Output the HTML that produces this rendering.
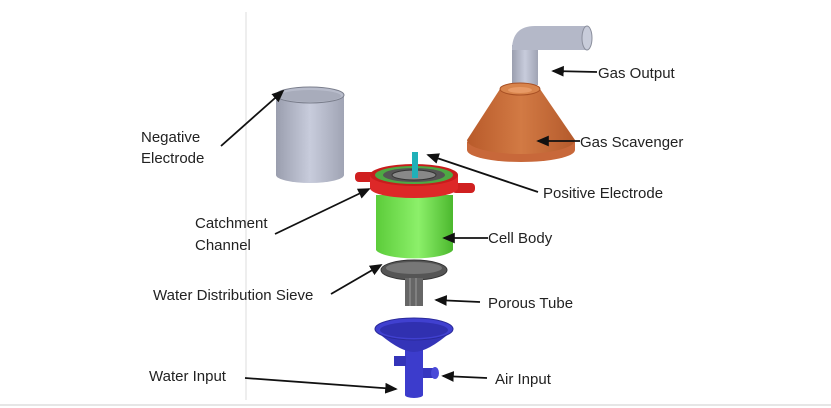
<!DOCTYPE html>
<html><head><style>
html,body{margin:0;padding:0;background:#fff;}
svg{display:block}
text{font-family:"Liberation Sans",sans-serif;font-size:15px;fill:#222}
</style></head><body>
<svg width="831" height="408" viewBox="0 0 831 408" xmlns="http://www.w3.org/2000/svg">
<defs>
<linearGradient id="gray" x1="0" x2="1"><stop offset="0" stop-color="#9a9eae"/><stop offset=".5" stop-color="#c8ccdc"/><stop offset="1" stop-color="#a0a4b4"/></linearGradient>
<linearGradient id="green" x1="0" x2="1"><stop offset="0" stop-color="#5ccc3a"/><stop offset=".55" stop-color="#8cf06a"/><stop offset="1" stop-color="#4cb82e"/></linearGradient>
<linearGradient id="copper" x1="0" x2="1"><stop offset="0" stop-color="#b85a2a"/><stop offset=".5" stop-color="#d27a44"/><stop offset="1" stop-color="#b45a2c"/></linearGradient>
<marker id="ah" markerWidth="8" markerHeight="8" refX="6" refY="3" orient="auto"><path d="M0,0 L7,3 L0,6 Z" fill="#111"/></marker>
</defs>
<line x1="246" y1="12" x2="246" y2="400" stroke="#ddd" stroke-width="1"/>
<line x1="0" y1="405" x2="831" y2="405" stroke="#ccc" stroke-width="1"/>

<path d="M276,95 L276,175 A34,8 0 0 0 344,175 L344,95 Z" fill="url(#gray)"/>
<ellipse cx="310" cy="95" rx="34" ry="8" fill="#b8bccb" stroke="#7a7e8c"/>
<ellipse cx="310" cy="96" rx="31" ry="6" fill="#a8acbb"/>

<rect x="512" y="45" width="26" height="40" fill="url(#gray)"/>
<path d="M512,50 Q512,26 535,26 L587,26 L587,50 L538,50 Z" fill="#b4b8c8"/>
<ellipse cx="587" cy="38" rx="5" ry="12" fill="#c8ccda" stroke="#8a8e9c"/>
<path d="M467,142 L467,150 A54,12 0 0 0 575,150 L575,142 Z" fill="#c8683a"/>
<path d="M500,89 L467,140 A54,14 0 0 0 575,140 L540,89 Z" fill="url(#copper)"/>
<ellipse cx="520" cy="89" rx="20" ry="6" fill="#d8844c" stroke="#a85024"/>
<ellipse cx="520" cy="90" rx="12" ry="3" fill="#e89a66"/>

<path d="M376,195 L376,250 A39,10 0 0 0 453,250 L453,195 Z" fill="url(#green)"/>
<rect x="355" y="172" width="20" height="10" rx="4" fill="#d02020"/>
<rect x="452" y="183" width="23" height="10" rx="4" fill="#d02020"/>
<path d="M370,175 L370,188 A44,10 0 0 0 458,188 L458,175 Z" fill="#dd2828"/>
<ellipse cx="414" cy="175" rx="44" ry="11" fill="#c81c1c"/>
<ellipse cx="414" cy="175" rx="39" ry="9" fill="#4ea844"/>
<ellipse cx="414" cy="175" rx="31" ry="7" fill="#555"/>
<ellipse cx="414" cy="175" rx="22" ry="5" fill="#888" stroke="#333"/>
<rect x="412" y="152" width="6" height="26" fill="#20b0b8"/>

<ellipse cx="414" cy="270" rx="33" ry="10" fill="#555" stroke="#333"/>
<ellipse cx="414" cy="268" rx="28" ry="6" fill="#777"/>
<rect x="405" y="278" width="18" height="28" fill="#666"/>
<line x1="410" y1="278" x2="410" y2="306" stroke="#999"/><line x1="416" y1="278" x2="416" y2="306" stroke="#999"/>

<path d="M405,345 L405,395 A9,3 0 0 0 423,395 L423,345 Z" fill="#3c3ccc"/>
<rect x="394" y="356" width="12" height="10" fill="#3434b8"/>
<rect x="423" y="368" width="12" height="10" fill="#3636c0"/>
<ellipse cx="435" cy="373" rx="4" ry="6" fill="#4a4ad8"/>
<path d="M376,331 Q400,352 414,352 Q428,352 452,331" fill="#3434b8"/>
<ellipse cx="414" cy="329" rx="39" ry="11" fill="#4040d0" stroke="#2a2a9a"/>
<ellipse cx="414" cy="330" rx="34" ry="8" fill="#3030b0"/>

<g stroke="#111" stroke-width="1.8" fill="none">
<line x1="597" y1="72" x2="553" y2="71" marker-end="url(#ah)"/>
<line x1="580" y1="141" x2="538" y2="141" marker-end="url(#ah)"/>
<line x1="538" y1="192" x2="428" y2="155" marker-end="url(#ah)"/>
<line x1="488" y1="238" x2="444" y2="238" marker-end="url(#ah)"/>
<line x1="480" y1="302" x2="436" y2="300" marker-end="url(#ah)"/>
<line x1="487" y1="378" x2="443" y2="376" marker-end="url(#ah)"/>
<line x1="245" y1="378" x2="396" y2="389" marker-end="url(#ah)"/>
<line x1="331" y1="294" x2="381" y2="265" marker-end="url(#ah)"/>
<line x1="275" y1="234" x2="369" y2="189" marker-end="url(#ah)"/>
<line x1="221" y1="146" x2="283" y2="91" marker-end="url(#ah)"/>
</g>

<text x="598" y="78">Gas Output</text>
<text x="580" y="147">Gas Scavenger</text>
<text x="543" y="198">Positive Electrode</text>
<text x="488" y="243">Cell Body</text>
<text x="488" y="308">Porous Tube</text>
<text x="495" y="384">Air Input</text>
<text x="149" y="381">Water Input</text>
<text x="153" y="300">Water Distribution Sieve</text>
<text x="195" y="228">Catchment</text>
<text x="195" y="250">Channel</text>
<text x="141" y="142">Negative</text>
<text x="141" y="163">Electrode</text>
</svg>
</body></html>
